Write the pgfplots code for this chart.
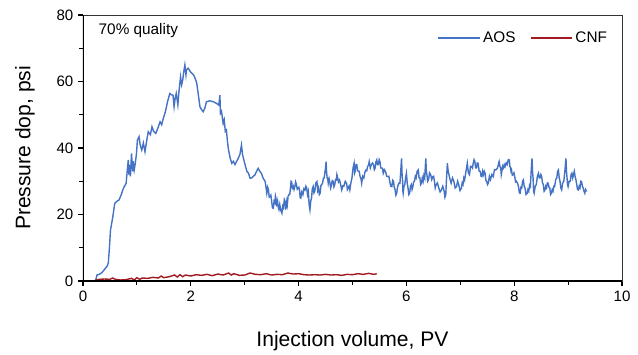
\documentclass[border=0pt]{standalone}
\usepackage{pgfplots}
\pgfplotsset{compat=1.18}
\usepackage{fontspec}
\setmainfont{Liberation Sans}
\definecolor{aos}{RGB}{68,114,196}
\definecolor{cnf}{RGB}{160,26,32}
\begin{document}
\begin{tikzpicture}
\path[use as bounding box] (-62.25pt,-54.75pt) rectangle (416.25pt,210.75pt);
\begin{axis}[
  scale only axis,
  width=404.25pt, height=199.5pt,
  xmin=0, xmax=10, ymin=0, ymax=80,
  xtick={0,2,...,10}, ytick={0,20,...,80},
  minor x tick num=1, minor y tick num=1,
  tick align=outside, xtick pos=bottom, ytick pos=left,
  major tick length=3.75pt, minor tick length=3pt,
  every tick/.style={black, line width=0.8pt},
  axis line style={line width=0.6pt, black!80},
  /pgf/number format/assume math mode=true,
  tick label style={font=\fontsize{11.3pt}{13pt}\selectfont},
  xlabel={Injection volume, PV},
  ylabel={Pressure dop, psi},
  xlabel style={font=\fontsize{15.8pt}{18pt}\selectfont, at={(axis description cs:0.5,-0.225)}, anchor=center},
  ylabel style={font=\fontsize{15.8pt}{18pt}\selectfont, at={(axis description cs:-0.1076,0.5)}, anchor=center},
  legend columns=2,
  legend style={draw=none, fill=none, at={(0.985,0.914)}, anchor=east, font=\fontsize{11.5pt}{13pt}\selectfont,
    /tikz/every even column/.append style={column sep=9pt}},
  legend image code/.code={\draw[#1, line width=1pt] (0pt,0pt) -- (31pt,0pt);},
]
\addplot[aos, line width=1.05pt] coordinates {
(0,-0.5)(0.1,-0.5)(0.2,-0.3)(0.24,0.5)(0.26,1.8)(0.3,2.0)(0.35,2.5)(0.4,3.5)(0.45,4.5)(0.47,5.5)
(0.49,10)(0.51,15.3)(0.55,19)(0.59,23.4)(0.63,24)(0.67,24.4)(0.71,26)(0.75,27.9)(0.80,29.4)(0.82,33)
(0.84,36.4)(0.85,32)(0.87,35)(0.88,31.5)(0.90,38.4)(0.92,33)(0.93,36)(0.95,33.4)(0.97,35.4)(0.99,38)
(1.01,42.4)(1.04,43.4)(1.06,41)(1.09,39.4)(1.12,41.5)(1.15,38.9)(1.18,42)(1.21,44.9)(1.25,44)(1.28,46.4)
(1.31,45)(1.35,44.4)(1.39,46)(1.43,47.9)(1.46,47)(1.49,48.9)(1.53,51)(1.57,54)(1.61,56.4)(1.64,56)
(1.67,55.9)(1.69,52.4)(1.71,55)(1.73,56.4)(1.76,53)(1.78,57)(1.81,61.4)(1.83,59)(1.85,60.4)(1.87,63)
(1.89,65)(1.91,62)(1.92,63.5)(1.95,64)(1.99,63)(2.02,62.5)(2.05,62)(2.08,61)(2.11,59.5)(2.14,56)
(2.17,52.4)(2.20,51.5)(2.23,50.9)(2.26,52)(2.29,53.9)(2.35,54.2)(2.42,53.9)(2.48,53.4)(2.52,52.9)(2.54,55.9)
(2.55,50.4)(2.57,51)(2.60,47.4)(2.62,48.5)(2.64,45)(2.66,45.4)(2.68,42)(2.70,39.4)(2.73,37)(2.76,35.4)
(2.79,36)(2.82,35)(2.85,36)(2.88,36.9)(2.91,38)(2.94,40.9)(2.96,38)(3.00,35.4)(3.04,33)(3.07,32.4)
(3.10,30.9)(3.13,31)(3.16,31.5)(3.19,31.9)(3.22,33)(3.25,33.9)(3.28,33)(3.31,32.4)(3.34,31)(3.38,29.9)
(3.41,26.4)(3.425,28.2)(3.44,27.5)(3.455,25.2)(3.47,25.4)(3.485,25.8)(3.50,24)(3.515,22)(3.53,21.9)(3.545,24)
(3.56,23.5)(3.57,25.6)(3.58,24.9)(3.59,22.8)(3.60,23)(3.61,23.9)(3.62,22.4)(3.635,21.5)(3.65,23)(3.67,21.2)
(3.69,20.4)(3.705,22.5)(3.72,22)(3.735,24.5)(3.75,23.9)(3.76,21.8)(3.77,22)(3.78,23.8)(3.79,22.9)(3.805,25.5)
(3.82,26)(3.835,26)(3.85,28)(3.86,30)(3.87,29.9)(3.885,28)(3.90,28.5)(3.915,27.5)(3.93,28.4)(3.945,29.8)
(3.96,29)(3.975,27.6)(3.99,27.9)(4.005,28.2)(4.02,27)(4.03,25)(4.04,24.9)(4.06,26.8)(4.08,26)(4.10,27.8)
(4.12,27.4)(4.135,28.5)(4.15,28)(4.165,26)(4.18,26.9)(4.195,23)(4.21,21.4)(4.225,24)(4.24,25)(4.255,27.8)
(4.27,28.4)(4.285,26.5)(4.30,27)(4.32,29.5)(4.34,29.9)(4.355,27.2)(4.37,28)(4.385,26)(4.40,26.4)(4.415,28.8)
(4.43,29)(4.445,29.5)(4.46,30.9)(4.475,31)(4.49,33)(4.50,34)(4.51,35.9)(4.52,32.5)(4.53,31)(4.54,30.8)
(4.55,29.4)(4.565,30.8)(4.58,29.6)(4.595,28)(4.61,28.9)(4.625,30.2)(4.64,30)(4.655,28.3)(4.67,28.9)(4.685,30.5)
(4.70,30.4)(4.71,32)(4.72,31.4)(4.74,29.8)(4.76,30.4)(4.78,29)(4.80,27.4)(4.82,28.6)(4.84,28.5)(4.865,30)
(4.89,29.4)(4.905,27.5)(4.92,28)(4.935,28.5)(4.95,27.4)(4.97,29.5)(4.99,31)(5.01,34)(5.03,35.4)(5.04,32.5)
(5.05,33)(5.065,35)(5.08,35)(5.095,33.2)(5.11,33)(5.125,33)(5.14,31.4)(5.155,31)(5.17,29.4)(5.19,31.5)
(5.21,31)(5.23,32.7)(5.25,33.4)(5.265,33.2)(5.28,34.5)(5.295,34.7)(5.31,35.9)(5.33,34)(5.35,35)(5.37,35.5)
(5.39,35)(5.405,33.5)(5.42,34)(5.435,35.8)(5.45,36.4)(5.465,35)(5.48,35)(5.495,36.5)(5.51,35.9)(5.525,34)
(5.54,34)(5.555,33.9)(5.57,32.4)(5.59,33.5)(5.61,33)(5.635,31.5)(5.66,31.4)(5.675,31.5)(5.69,30)(5.71,28.5)
(5.73,28.4)(5.745,30.3)(5.76,30)(5.775,28.2)(5.79,27.5)(5.805,25.8)(5.82,26.4)(5.835,28.2)(5.85,29)(5.865,29.5)
(5.88,29.4)(5.895,33)(5.91,36.9)(5.92,32)(5.93,30)(5.935,27)(5.94,26.4)(5.955,28.5)(5.97,29)(5.985,31)
(6.00,32.4)(6.015,29.5)(6.03,28)(6.045,26)(6.06,26.4)(6.075,28.5)(6.09,29)(6.105,27.5)(6.12,28.4)(6.135,29.8)
(6.15,30)(6.165,31.5)(6.18,31)(6.20,33)(6.22,33.4)(6.235,31)(6.25,31)(6.265,29)(6.28,29.4)(6.295,31)
(6.31,30)(6.325,31.8)(6.34,31)(6.35,34)(6.36,36.9)(6.37,33)(6.38,32)(6.395,30)(6.41,30.4)(6.43,32.5)
(6.45,32)(6.47,30.5)(6.49,31.4)(6.505,31.5)(6.52,30)(6.535,28)(6.55,28.9)(6.575,29.5)(6.60,28)(6.625,26.8)
(6.65,27.4)(6.675,28.5)(6.70,27)(6.715,25.2)(6.73,25.9)(6.745,31)(6.76,35.4)(6.775,33)(6.79,32)(6.81,30.5)
(6.83,29.4)(6.855,31)(6.88,30)(6.905,28)(6.93,28.4)(6.95,30)(6.97,29)(6.995,27.2)(7.02,27.9)(7.035,29.5)
(7.05,29)(7.065,31)(7.08,30.4)(7.105,33)(7.13,35.4)(7.15,32.5)(7.17,32)(7.19,34.5)(7.21,34.4)(7.225,34)
(7.24,35.4)(7.255,36.5)(7.27,35.9)(7.285,34)(7.30,34)(7.315,35.5)(7.33,35.4)(7.35,33)(7.37,33)(7.385,31.5)
(7.40,31.4)(7.415,33)(7.43,32)(7.445,33)(7.46,32.4)(7.475,30.2)(7.49,30)(7.505,29)(7.52,29.4)(7.54,31.5)
(7.56,30.5)(7.585,32)(7.61,31.4)(7.635,33.5)(7.66,33.4)(7.69,34)(7.72,35.9)(7.735,34.5)(7.75,34)(7.76,32)
(7.77,32.9)(7.785,34.5)(7.80,34)(7.815,35)(7.83,34.4)(7.85,35.5)(7.87,35)(7.89,36.5)(7.91,36.4)(7.92,34.5)
(7.93,34)(7.94,33)(7.95,33.4)(7.965,31.8)(7.98,32)(7.995,32.5)(8.01,31.4)(8.025,29.8)(8.04,30)(8.06,29.5)
(8.08,28.4)(8.095,26.5)(8.11,26.4)(8.125,28.2)(8.14,28)(8.155,30)(8.17,30.4)(8.185,28.5)(8.20,28)(8.22,26)
(8.24,26.4)(8.255,27.5)(8.27,27)(8.285,28.8)(8.30,28.4)(8.315,33)(8.33,36.9)(8.34,33)(8.35,31)(8.36,27)
(8.37,26.4)(8.39,28.5)(8.41,29)(8.43,31.5)(8.45,32.4)(8.465,31)(8.48,31)(8.495,32)(8.51,31.4)(8.525,29.5)
(8.54,29)(8.555,27)(8.57,27.4)(8.585,28.5)(8.60,28)(8.615,29.5)(8.63,29.4)(8.645,28.2)(8.66,28)(8.675,26)
(8.69,26.4)(8.705,27.5)(8.72,27)(8.735,28.5)(8.75,28.4)(8.77,30.5)(8.79,31)(8.805,33)(8.82,33.4)(8.835,31)
(8.85,30)(8.865,28)(8.88,27.4)(8.90,29.5)(8.92,30)(8.94,33)(8.96,36.9)(8.97,33)(8.98,31)(8.99,29)
(9.00,28.4)(9.02,30)(9.04,30)(9.055,32)(9.07,32.4)(9.085,31)(9.10,32)(9.115,33)(9.13,31.4)(9.145,30.5)
(9.16,29)(9.175,27.5)(9.19,27.4)(9.205,28.5)(9.22,28)(9.235,30)(9.25,29.9)(9.265,28.5)(9.28,28)(9.295,27)
(9.31,26.4)(9.325,27.5)(9.34,26.9)
};
\addlegendentry{AOS}
\addplot[cnf, line width=1.05pt] coordinates {
(0,-0.3)(0.1,-0.3)(0.2,-0.2)(0.25,0.3)(0.3,0.5)(0.4,0.6)(0.5,0.5)(0.55,0.9)(0.6,0.5)(0.7,0.3)
(0.8,0.4)(0.9,0.8)(0.95,0.3)(1.0,1.0)(1.05,0.5)(1.1,0.9)(1.2,0.8)(1.3,1.1)(1.4,0.9)(1.45,1.5)
(1.5,1.0)(1.6,1.3)(1.7,1.8)(1.75,1.2)(1.8,1.9)(1.85,1.3)(1.9,1.8)(2.0,1.5)(2.1,1.9)(2.2,1.7)
(2.3,2.0)(2.4,1.6)(2.5,2.1)(2.6,1.8)(2.7,2.4)(2.75,1.8)(2.8,2.2)(2.9,1.7)(3.0,1.8)(3.1,2.4)
(3.2,2.0)(3.3,1.9)(3.4,2.2)(3.5,1.8)(3.6,2.0)(3.7,1.9)(3.8,2.4)(3.9,2.1)(4.0,2.2)(4.1,1.9)
(4.2,1.8)(4.3,1.9)(4.4,1.8)(4.5,2.0)(4.6,1.8)(4.7,1.9)(4.8,1.7)(4.9,2.0)(5.0,1.9)(5.1,2.2)
(5.2,2.0)(5.3,2.3)(5.4,2.0)(5.45,2.2)
};
\addlegendentry{CNF}
\draw[black, line width=1.5pt] (axis cs:0,80) -- (axis cs:0,0) -- (axis cs:10,0);
\node[anchor=west, font=\fontsize{11.5pt}{13pt}\selectfont] at (axis description cs:0.0204,0.94) {70\% quality};
\end{axis}
\end{tikzpicture}
\end{document}
